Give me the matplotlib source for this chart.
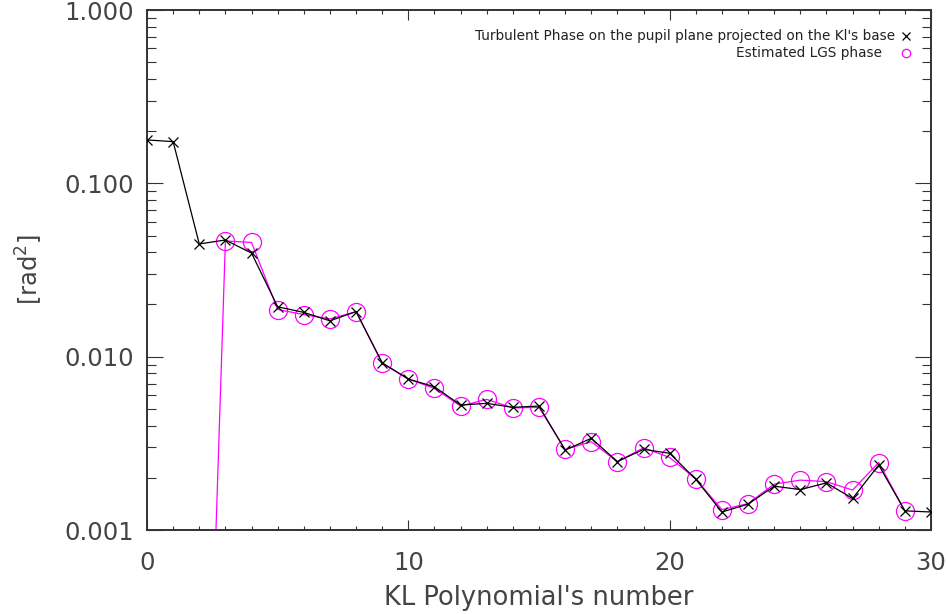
import numpy as np
import matplotlib
matplotlib.use("Agg")
import matplotlib.pyplot as plt
from matplotlib.ticker import FixedLocator, FuncFormatter, LogLocator, NullFormatter

plt.rcParams['font.family'] = ['DejaVu Sans']
plt.rcParams['mathtext.fontset'] = 'dejavusans'

# Data
kl_turb = list(range(0, 31))
turb_phase = [0.178, 0.174, 0.0447, 0.0471, 0.0396, 0.0194, 0.0180, 0.0161, 0.0182, 0.00922,
              0.00743, 0.00670, 0.00526, 0.00538, 0.00510, 0.00519, 0.00289, 0.00338, 0.00248,
              0.00292, 0.00277, 0.00196, 0.00127, 0.00141, 0.00179, 0.00171, 0.00187, 0.00152,
              0.00237, 0.00129, 0.00127]
kl_lgs = list(range(2, 30))
lgs_phase = [1.1e-6, 0.0465, 0.0456, 0.0187, 0.0175, 0.0165, 0.0182, 0.00915, 0.00743, 0.00656,
             0.00519, 0.00567, 0.00506, 0.00510, 0.00292, 0.00323, 0.00248, 0.00298, 0.00262,
             0.00197, 0.00131, 0.00142, 0.00184, 0.00194, 0.00190, 0.00170, 0.00245, 0.00129]

xlabel = "KL Polynomial's number"
ylabel = r"[rad$^2$]"
legend_labels = ["Turbulent Phase on the pupil plane projected on the Kl's base", "Estimated LGS phase"]

TXT = '#444444'
fig = plt.figure(figsize=(9.48, 6.14), dpi=100)
ax = fig.add_axes([147/948, 1-530/614, (931-147)/948, 520/614])

ax.plot(kl_turb, turb_phase, color='black', lw=0.9, marker='x', ms=7, mew=0.9, zorder=3)
ax.plot(kl_lgs, lgs_phase, color='#ff00ff', lw=0.9, marker='o', ms=13, mfc='none', mew=0.9, zorder=2)

ax.set_yscale('log')
ax.set_xlim(0, 30)
ax.set_ylim(0.001, 1.0)

ax.xaxis.set_major_locator(FixedLocator([0, 10, 20, 30]))
ax.xaxis.set_minor_locator(FixedLocator(list(range(0, 31))))
ax.yaxis.set_major_locator(FixedLocator([0.001, 0.01, 0.1, 1.0]))
ax.yaxis.set_minor_locator(LogLocator(base=10, subs=np.arange(2, 10)))
ax.yaxis.set_major_formatter(FuncFormatter(lambda v, p: f"{v:.3f}"))
ax.yaxis.set_minor_formatter(NullFormatter())

ax.tick_params(axis='both', which='both', direction='in', top=True, right=True, width=0.8,
               color='#333333', labelcolor=TXT)
ax.tick_params(axis='y', which='major', length=11.5, labelsize=17.5, pad=9.5)
ax.tick_params(axis='y', which='minor', length=6.5)
ax.tick_params(axis='x', which='major', length=7.5, labelsize=17.5, pad=15)
ax.tick_params(axis='x', which='minor', length=3)

for sp in ax.spines.values():
    sp.set_linewidth(1.4)
    sp.set_color('#333333')

ax.set_xlabel(xlabel, fontsize=18.5, color=TXT, labelpad=7)
ax.set_ylabel(ylabel, fontsize=17.5, color=TXT, labelpad=14)

# Legend (IDL style: text then symbol)
fig.text(895/948, 1-36/614, legend_labels[0], ha='right', va='center', fontsize=9.8, color='#222222')
fig.text(882/948, 1-53/614, legend_labels[1], ha='right', va='center', fontsize=9.8, color='#222222')
fig.lines.append(plt.Line2D([906/948], [1-36/614], marker='x', color='black', ms=6, mew=0.9,
                            transform=fig.transFigure))
fig.lines.append(plt.Line2D([906/948], [1-53/614], marker='o', color='#ff00ff', mfc='none', ms=6,
                            mew=0.9, transform=fig.transFigure))

fig.savefig('out.png', dpi=100)
